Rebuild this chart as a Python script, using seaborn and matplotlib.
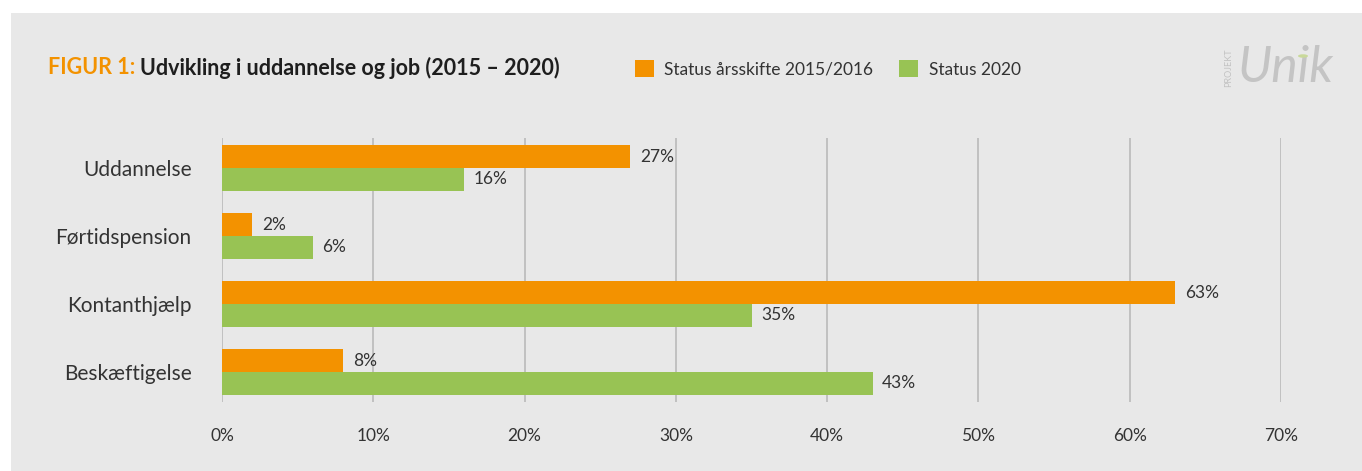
import matplotlib
matplotlib.use("Agg")
import matplotlib.pyplot as plt
from matplotlib.patches import Rectangle, Circle
import pandas as pd
import seaborn as sns

categories = ["Uddannelse", "Førtidspension", "Kontanthjælp", "Beskæftigelse"]
series_names = ["Status årsskifte 2015/2016", "Status 2020"]
status_2015 = [27, 2, 63, 8]
status_2020 = [16, 6, 35, 43]
x_ticks = [0, 10, 20, 30, 40, 50, 60, 70]

ORANGE = "#F39200"
GREEN = "#98C354"
BG = "#E8E8E8"
TEXT = "#333333"

df = pd.DataFrame({
    "Kategori": categories * 2,
    "Serie": [series_names[0]] * 4 + [series_names[1]] * 4,
    "Andel": status_2015 + status_2020,
})

sns.set_theme(style="white")
plt.rcParams["font.family"] = ["Lato", "DejaVu Sans"]

W, H = 1362, 471
fig = plt.figure(figsize=(W / 100, H / 100), dpi=100, facecolor="white")
# grey panel, with a thin white strip top and left
fig.patches.append(Rectangle((11 / W, 0), 1, 1 - 13 / H, transform=fig.transFigure,
                             facecolor=BG, edgecolor="none", zorder=-10))

ax = fig.add_axes([222 / W, (H - 402) / H, (1281 - 222) / W, (402 - 138) / H])
ax.set_facecolor(BG)

sns.barplot(data=df, y="Kategori", x="Andel", hue="Serie", orient="h",
            palette=[ORANGE, GREEN], width=0.67, gap=0, saturation=1,
            errorbar=None, ax=ax, legend=False, zorder=3, linewidth=0)

for cont in ax.containers:
    ax.bar_label(cont, fmt="%d%%", padding=7, fontsize=12.5, color=TEXT)

ax.set_xlim(0, 70)
ax.set_ylim(3.44, -0.44)
ax.set_xticks(x_ticks)
ax.set_xticklabels([f"{t}%" for t in x_ticks])
ax.grid(axis="x", color="#BDBDBD", linewidth=1.3, zorder=0)
ax.grid(axis="y", visible=False)
for s in ax.spines.values():
    s.set_visible(False)
ax.tick_params(axis="x", length=0, pad=19, labelsize=12.5, labelcolor=TEXT)
ax.tick_params(axis="y", length=0, pad=22, labelsize=15, labelcolor=TEXT)
ax.set_xlabel("")
ax.set_ylabel("")

# title
t1 = fig.text(48 / W, 1 - 68 / H, "FIGUR 1: ", color=ORANGE, fontsize=15.5,
              fontweight="bold", va="center", ha="left")
fig.canvas.draw()
bb = t1.get_window_extent()
fig.text(bb.x1 / W, 1 - 68 / H, "Udvikling i uddannelse og job (2015 – 2020)",
         color="#1E1E1E", fontsize=15.5, fontweight="bold", va="center", ha="left")

# legend
handles = [Rectangle((0, 0), 1, 1, facecolor=c, edgecolor="none") for c in (ORANGE, GREEN)]
fig.legend(handles, series_names, loc="center left", bbox_to_anchor=(619 / W, 1 - 69 / H),
           ncol=2, frameon=False, handlelength=1.1, handleheight=1.1, handletextpad=0.6,
           columnspacing=1.5, fontsize=12.5, labelcolor=TEXT)

# logo
fig.text(1229 / W, 1 - 68 / H, "PROJEKT", rotation=90, color="#C2C2C2", fontsize=6.5,
         ha="center", va="center")
fig.text(1238 / W, 1 - 68 / H, "Unik", color="#C4C4C4", fontsize=36, style="italic",
         ha="left", va="center")
fig.patches.append(Circle((1303 / W, 1 - 56 / H), 5 / W, transform=fig.transFigure,
                          facecolor="#C9D99A", edgecolor="none", zorder=5))

fig.savefig("out.png", dpi=100, facecolor=fig.get_facecolor())
